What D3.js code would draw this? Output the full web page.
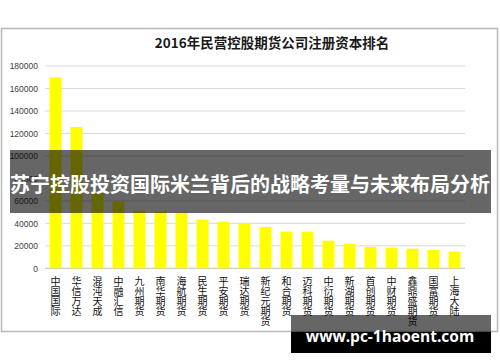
<!DOCTYPE html>
<html>
<head>
<meta charset="utf-8">
<script src="https://cdn.jsdelivr.net/npm/d3@7"></script>
<style>
  body { margin: 0; background: #fff; }
  svg { display: block; font-family: "Noto Sans CJK SC", "Noto Sans", sans-serif; }
</style>
</head>
<body>
<div class="canvas"></div>
<script>
const companies = ['中国国际', '华信万达', '混沌天成', '中融汇信', '九州期货', '南华期货', '海航期货',
  '民生期货', '平安期货', '瑞达期货', '新纪元期货', '和合期货', '迈科期货', '中衍期货', '新湖期货',
  '首创期货', '中财期货', '鑫鼎盛期货', '国富期货', '上海大陆']
const capital = [170000, 125700, 67000, 59300, 51300, 50400, 49500, 43300, 41500, 39700,
  36800, 32600, 32600, 24600, 21900, 19000, 18400, 17500, 16300, 14800]
const yTicks = [0, 20000, 40000, 60000, 80000, 100000, 120000, 140000, 160000, 180000]
const chartTitle = '2016年民营控股期货公司注册资本排名'
const bannerText = '苏宁控股投资国际米兰背后的战略考量与未来布局分析'
const siteText = 'www.pc-1haoent.com'

const width = 500
const height = 362
const plot = {left: 45, right: 465, top: 66, bottom: 268.3}

const svg = d3.select('.canvas')
  .append('svg')
  .attr('width', width)
  .attr('height', height)

// chart frame
svg.append('rect')
  .attr('x', 1.5)
  .attr('y', 28.5)
  .attr('width', 496)
  .attr('height', 303)
  .attr('fill', '#fff')
  .attr('stroke', '#b8b8b8')
  .attr('stroke-width', 1.5)

svg.append('text')
  .attr('x', 272)
  .attr('y', 48)
  .attr('text-anchor', 'middle')
  .attr('font-size', 13.5)
  .attr('font-weight', 'bold')
  .attr('fill', '#1a1a1a')
  .text(chartTitle)

const x = d3.scaleBand()
  .domain(companies)
  .range([plot.left, plot.right])
  .paddingInner(0.43)
  .paddingOuter(0.215)

const y = d3.scaleLinear()
  .domain([0, 180000])
  .range([plot.bottom, plot.top])

// gridlines
svg.append('g')
  .selectAll('line')
  .data(yTicks)
  .join('line')
  .attr('x1', plot.left)
  .attr('x2', plot.right)
  .attr('y1', d => y(d))
  .attr('y2', d => y(d))
  .attr('stroke', d => d === 0 ? '#bfbfbf' : '#d9d9d9')
  .attr('stroke-width', 1)

const yAxis = d3.axisLeft(y)
  .tickValues(yTicks)
  .tickSize(0)
  .tickPadding(7)
  .tickFormat(d3.format('d'))

svg.append('g')
  .attr('transform', `translate(${plot.left}, 0)`)
  .call(yAxis)
  .call(g => g.select('.domain').remove())
  .selectAll('text')
  .attr('font-family', '"Liberation Sans", sans-serif')
  .attr('font-size', 8.5)
  .attr('fill', '#404040')

svg.append('g')
  .selectAll('rect')
  .data(companies)
  .join('rect')
  .attr('x', d => x(d))
  .attr('width', x.bandwidth())
  .attr('y', (d, i) => y(capital[i]))
  .attr('height', (d, i) => y(0) - y(capital[i]))
  .attr('fill', '#ffff00')

// vertical category labels, one character per line
const labels = svg.append('g')
  .selectAll('text')
  .data(companies)
  .join('text')
  .attr('font-size', 10)
  .attr('fill', '#111')
  .attr('text-anchor', 'middle')

labels.selectAll('tspan')
  .data(d => Array.from(d).map(ch => ({ch, name: d})))
  .join('tspan')
  .attr('x', d => x(d.name) + x.bandwidth() / 2)
  .attr('y', (d, i) => 285 + i * 10)
  .text(d => d.ch)

// dark banner over the chart
svg.append('rect')
  .attr('x', 10)
  .attr('y', 150)
  .attr('width', 481)
  .attr('height', 63)
  .attr('fill', 'rgba(0,0,0,0.6)')

svg.append('text')
  .attr('x', 250)
  .attr('y', 192)
  .attr('text-anchor', 'middle')
  .attr('font-size', 20)
  .attr('font-weight', 'bold')
  .attr('fill', '#fff')
  .text(bannerText)

// site watermark
svg.append('rect')
  .attr('x', 291)
  .attr('y', 315)
  .attr('width', 200)
  .attr('height', 17)
  .attr('fill', 'rgba(0,0,0,0.6)')

svg.append('rect')
  .attr('x', 291)
  .attr('y', 332)
  .attr('width', 200)
  .attr('height', 21)
  .attr('fill', '#000')

svg.append('text')
  .attr('x', 390)
  .attr('y', 342)
  .attr('text-anchor', 'middle')
  .attr('font-family', '"Open Sans", "DejaVu Sans", sans-serif')
  .attr('font-size', 15.5)
  .attr('font-weight', 'bold')
  .attr('fill', '#fff')
  .text(siteText)
</script>
</body>
</html>
